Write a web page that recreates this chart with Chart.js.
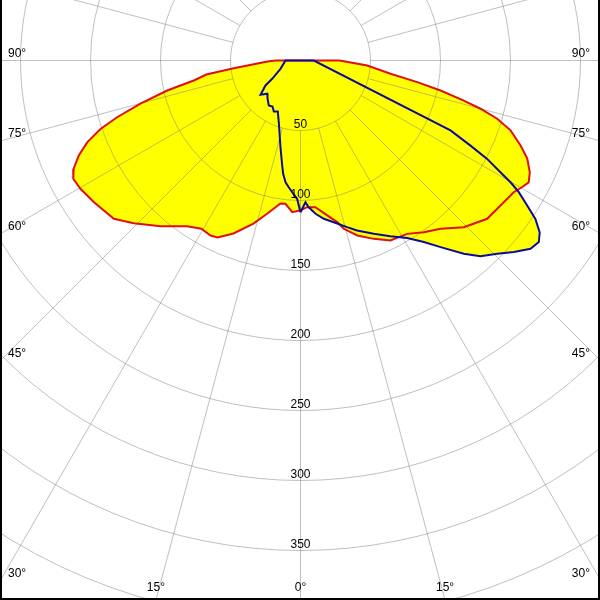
<!DOCTYPE html>
<html>
<head>
<meta charset="utf-8">
<script src="https://cdn.jsdelivr.net/npm/chart.js@4"></script>
<style>
  body { margin: 0; background: #fff; }
  #wrap { width: 600px; height: 600px; }
</style>
</head>
<body>
<div id="wrap"><canvas id="polarChart" width="600" height="600"></canvas></div>
<script>
// C0 - C180 plane (red), gamma in degrees from nadir, intensity in cd/klm
const redC0Gamma = [0, 2.6, 5.8, 9.8, 12.8, 14.4, 18.0, 22.3, 26.6, 29.1, 31.6, 35.7, 39.8, 44.4, 49.7, 55.1, 58.3, 60.3, 61.9, 64.0, 66.6, 68.9, 71.6, 73.5, 75.0, 76.2, 77.9, 79.5, 81.6, 85.7, 89.1, 90];
const redC0Cd = [107, 104.9, 105.3, 112.3, 118.4, 124.1, 131.4, 137.7, 143.7, 144.4, 145.4, 151, 156.4, 166.7, 174.8, 177, 179, 182.4, 184.8, 182.2, 176.5, 168.5, 158.1, 146.5, 133.1, 120.1, 102.3, 84.8, 65, 47.8, 30.9, 28];
const redC180Gamma = [0, 3.1, 6.0, 8.0, 12.2, 16.1, 21.2, 25.1, 27.2, 30.5, 34.4, 40.2, 45.7, 49.7, 55.6, 59.7, 62.5, 64.5, 66.8, 69.0, 71.1, 72.8, 74.9, 77.3, 79.4, 81.5, 83.4, 88.3, 90];
const redC180Cd = [107, 108.5, 102.9, 103.1, 111.8, 121.2, 132.5, 139.6, 140.6, 139.5, 143.4, 154.9, 166.4, 174.8, 179, 181.9, 183, 179.5, 172.3, 163.2, 151, 137.1, 118.4, 97.6, 77.5, 68, 48, 23.6, 18];

// C90 - C270 plane (blue)
const blueC90Gamma = [0, 2.0, 3.2, 5.6, 8.4, 11.6, 15.6, 18.4, 22.9, 27.1, 31.0, 34.2, 36.9, 40.2, 42.6, 45.5, 48.1, 50.7, 52.7, 54.3, 56.0, 57.4, 58.9, 59.9, 60.8, 62.2, 63.4, 65.0, 90];
const blueC90Cd = [108.4, 101.3, 105, 110, 114.3, 117.9, 123.6, 128, 134.4, 141, 148, 156.8, 166.7, 180.7, 189.9, 197, 204.8, 212.3, 214, 210.4, 202.4, 192.2, 182.1, 173.4, 163.6, 150.7, 135.8, 118.2, 9.5];
const blueC270Gamma = [0, 1.4, 3.6, 5.3, 7.0, 8.7, 9.9, 13.0, 18.6, 24.0, 27.6, 31.3, 35.2, 41.0, 45.0, 49.4, 54.5, 57.1, 67.5, 90];
const blueC270Cd = [108.4, 98.8, 94.3, 90.9, 87.6, 81.9, 76.1, 63.6, 48.2, 39.9, 41.1, 38.5, 39.3, 35.9, 33.6, 37.6, 30.7, 24.1, 15.5, 10.7];

// grid
const ringValues = [50, 100, 150, 200, 250, 300, 350, 400, 450];
const ringLabels = ['50', '100', '150', '200', '250', '300', '350'];
const angleLabels = [90, 75, 60, 45, 30, 15, 0];

// one plane -> closed outline: right half going up, left half coming back down
function planePoints(rightG, rightI, leftG, leftI) {
  const pts = [];
  rightG.forEach((g, i) => {
    const a = g * Math.PI / 180;
    pts.push({ x: rightI[i] * Math.sin(a), y: -rightI[i] * Math.cos(a) });
  });
  for (let i = leftG.length - 1; i >= 0; i--) {
    const a = leftG[i] * Math.PI / 180;
    pts.push({ x: -leftI[i] * Math.sin(a), y: -leftI[i] * Math.cos(a) });
  }
  return pts;
}

const FONT = '12px "Liberation Sans", Arial, sans-serif';

const polarGrid = {
  id: 'polarGrid',
  beforeDatasetsDraw(chart) {
    const { ctx, scales: { x, y } } = chart;
    const cx = x.getPixelForValue(0), cy = y.getPixelForValue(0);
    const unit = x.getPixelForValue(1) - cx;
    ctx.save();
    ctx.strokeStyle = 'rgba(130,130,130,0.5)';
    ctx.lineWidth = 1;
    ringValues.forEach(v => {
      ctx.beginPath();
      ctx.arc(cx, cy, v * unit, 0, Math.PI * 2);
      ctx.stroke();
    });
    // spokes every 15 degrees, starting at the first ring
    const r0 = ringValues[0] * unit, r1 = 1000;
    for (let k = 0; k < 24; k++) {
      const a = k * 15 * Math.PI / 180;
      const sx = Math.sin(a), sy = Math.cos(a);
      ctx.beginPath();
      ctx.moveTo(cx + r0 * sx, cy + r0 * sy);
      ctx.lineTo(cx + r1 * sx, cy + r1 * sy);
      ctx.stroke();
    }
    ctx.restore();
  },
  afterDatasetsDraw(chart) {
    const { ctx, chartArea: area, scales: { x, y } } = chart;
    const cx = x.getPixelForValue(0), cy = y.getPixelForValue(0);
    const unit = x.getPixelForValue(1) - cx;
    ctx.save();
    ctx.font = FONT;
    ctx.fillStyle = '#000';
    ctx.textAlign = 'center';
    ctx.textBaseline = 'bottom';
    ringLabels.forEach(t => {
      ctx.fillText(t, cx, cy + Number(t) * unit);
    });
    ctx.textBaseline = 'middle';
    angleLabels.forEach(g => {
      const t = g + '\u00b0';
      if (g === 0) {
        ctx.textAlign = 'center';
        ctx.fillText(t, cx, area.bottom - 12);
        return;
      }
      const tanA = Math.tan(g * Math.PI / 180);
      const sideY = cy + (cx - area.left) / tanA;
      if (sideY < area.bottom - 10) {
        ctx.textAlign = 'left';
        ctx.fillText(t, area.left + 8, sideY - 7);
        ctx.textAlign = 'right';
        ctx.fillText(t, area.right - 10, sideY - 7);
      } else {
        const dx = (area.bottom - cy) * tanA;
        ctx.textAlign = 'center';
        ctx.fillText(t, cx - dx, area.bottom - 12);
        ctx.fillText(t, cx + dx, area.bottom - 12);
      }
    });
    ctx.restore();
  },
  afterDraw(chart) {
    const { ctx, width, height } = chart;
    ctx.save();
    ctx.fillStyle = '#000';
    ctx.fillRect(0, 0, 2, height);
    ctx.fillRect(width - 2, 0, 2, height);
    ctx.fillRect(0, height - 2, width, 2);
    ctx.restore();
  }
};

const SCALE = 1.4; // px per cd/klm
new Chart(document.getElementById('polarChart'), {
  type: 'scatter',
  data: {
    datasets: [{
      label: 'C90 - C270',
      data: planePoints(blueC90Gamma, blueC90Cd, blueC270Gamma, blueC270Cd),
      showLine: true,
      borderColor: '#0c0c9c',
      borderWidth: 2,
      backgroundColor: '#ffff00',
      fill: 'shape',
      pointRadius: 0,
      tension: 0
    }, {
      label: 'C0 - C180',
      data: planePoints(redC0Gamma, redC0Cd, redC180Gamma, redC180Cd),
      showLine: true,
      borderColor: '#e01010',
      borderWidth: 2,
      backgroundColor: '#ffff00',
      fill: 'shape',
      pointRadius: 0,
      tension: 0
    }]
  },
  options: {
    responsive: false,
    animation: false,
    devicePixelRatio: 1,
    layout: { padding: 0 },
    scales: {
      x: { type: 'linear', min: -300.5 / SCALE, max: 299.5 / SCALE, display: false },
      y: { type: 'linear', min: -539.5 / SCALE, max: 60.5 / SCALE, display: false }
    },
    plugins: {
      legend: { display: false },
      tooltip: { enabled: false },
      filler: { drawTime: 'beforeDraw' }
    }
  },
  plugins: [polarGrid]
});
</script>
</body>
</html>
